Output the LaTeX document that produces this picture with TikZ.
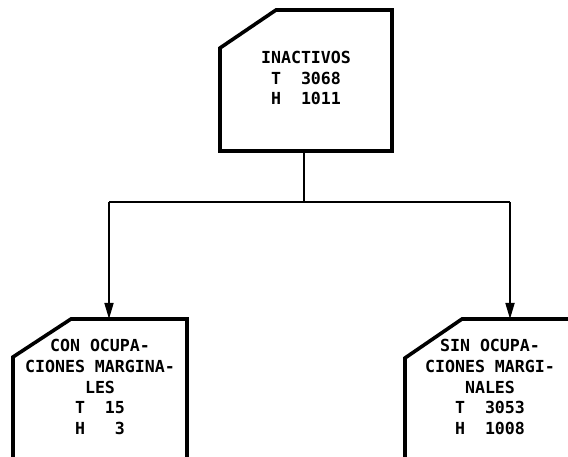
\documentclass[tikz,border=0pt]{standalone}
\usepackage{fontspec}
\setmonofont{DejaVu Sans Mono}
\usetikzlibrary{arrows.meta}
\newcommand{\cardfont}{\fontsize{16.6}{20.8}\selectfont\ttfamily\bfseries}

\begin{document}
\begin{tikzpicture}[x=1pt, y=-1pt,
	card/.style={line width=3.6pt, line join=miter},
	conn/.style={line width=1.7pt},
	lbl/.style={inner sep=0pt, align=center, font=\cardfont}]
	\useasboundingbox (0, 0) rectangle (568, 457);
	% cards
	\draw[card] (220, 151) -- (220, 48) -- (276, 10) -- (392, 10) -- (392, 151) -- cycle;
	\draw[card] (13, 460) -- (13, 357) -- (71, 319) -- (187, 319) -- (187, 460);
	\draw[card] (405, 460) -- (405, 358) -- (462, 319) -- (572, 319);
	\node[lbl] (inact) at (306, 78) {INACTIVOS\\T~~3068\\H~~1011};
	\node[lbl] (conocup) at (100, 387) {CON OCUPA-\\CIONES MARGINA-\\LES\\T~~15\\H~~~3};
	\node[lbl] (sinocup) at (490, 387) {SIN OCUPA-\\CIONES MARGI-\\NALES\\T~~3053\\H~~1008};
	% connectors
	\coordinate (stem) at (304, 151);
	\coordinate (split) at (304, 202);
	\coordinate (conin) at (109, 319);
	\coordinate (sinin) at (510, 319);
	\draw[conn] (stem) -- (split);
	\draw[conn] (conin |- split) -- (sinin |- split);
	\draw[conn, -{Triangle[length=16pt, width=9pt]}] (conin |- split) -- (conin);
	\draw[conn, -{Triangle[length=16pt, width=9pt]}] (sinin |- split) -- (sinin);
\end{tikzpicture}
\end{document}
